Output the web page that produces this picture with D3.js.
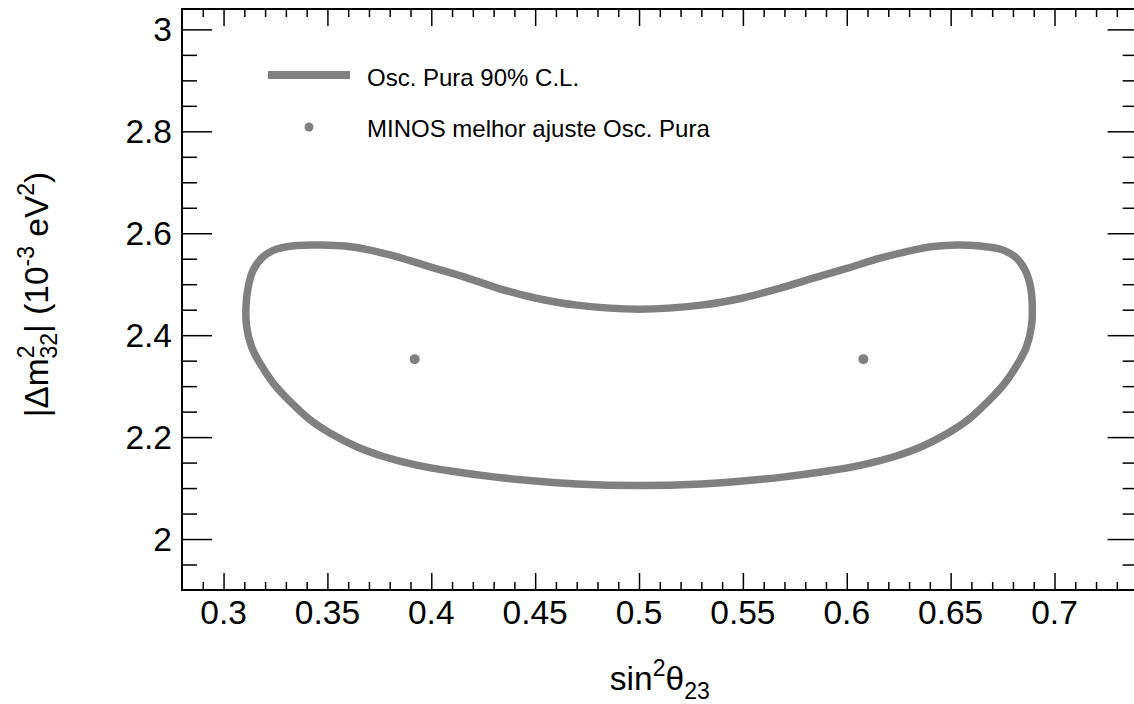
<!DOCTYPE html>
<html>
<head>
<meta charset="utf-8">
<script src="https://cdn.jsdelivr.net/npm/d3@7"></script>
<style>
  html, body { margin: 0; padding: 0; background: #fff; }
  svg { display: block; font-family: "Liberation Sans", Arial, Helvetica, sans-serif; }
</style>
</head>
<body>
<div id="chart"></div>
<script>
// 90% C.L. contour (sin^2 theta23, |dm^2_32| in 1e-3 eV^2)
const contourPoints = [
  [0.3108, 2.456], [0.3119, 2.495], [0.3143, 2.528], [0.3191, 2.554],
  [0.3256, 2.569], [0.3352, 2.576], [0.3472, 2.577], [0.3585, 2.575],
  [0.3705, 2.567], [0.3833, 2.554], [0.3994, 2.534], [0.4154, 2.515],
  [0.4322, 2.492], [0.45, 2.473], [0.47, 2.459], [0.5, 2.451],
  [0.53, 2.459], [0.55, 2.473], [0.5678, 2.492], [0.5839, 2.512],
  [0.6, 2.531], [0.616, 2.551], [0.632, 2.567], [0.6416, 2.574],
  [0.653, 2.577], [0.6641, 2.575], [0.6744, 2.568], [0.6812, 2.553],
  [0.6858, 2.528], [0.6884, 2.496], [0.6893, 2.458], [0.6889, 2.417],
  [0.6865, 2.377], [0.6825, 2.345], [0.6761, 2.306], [0.668, 2.27],
  [0.6584, 2.234], [0.6488, 2.208], [0.6359, 2.181], [0.6231, 2.162],
  [0.607, 2.145], [0.59, 2.133], [0.57, 2.122], [0.55, 2.114],
  [0.53, 2.108], [0.5, 2.105], [0.47, 2.108], [0.45, 2.114],
  [0.43, 2.122], [0.41, 2.133], [0.393, 2.145], [0.3769, 2.162],
  [0.3641, 2.181], [0.3512, 2.208], [0.3416, 2.234], [0.332, 2.27],
  [0.3239, 2.306], [0.3175, 2.345], [0.3135, 2.377], [0.3111, 2.417],
];

// MINOS best fit points (two octants)
const bestFitX = [0.392, 0.608];
const bestFitY = [2.353, 2.353];

const xDomain = [0.28, 0.74];
const yDomain = [1.9, 3.04];
const xMajorTicks = [0.3, 0.35, 0.4, 0.45, 0.5, 0.55, 0.6, 0.65, 0.7];
const xMinorTicks = [0.29, 0.31, 0.32, 0.33, 0.34, 0.36, 0.37, 0.38, 0.39, 0.41, 0.42, 0.43, 0.44,
  0.46, 0.47, 0.48, 0.49, 0.51, 0.52, 0.53, 0.54, 0.56, 0.57, 0.58, 0.59, 0.61, 0.62, 0.63, 0.64,
  0.66, 0.67, 0.68, 0.69, 0.71, 0.72, 0.73];
const yMajorTicks = [2, 2.2, 2.4, 2.6, 2.8, 3];
const yMinorTicks = [1.95, 2.05, 2.1, 2.15, 2.25, 2.3, 2.35, 2.45, 2.5, 2.55, 2.65, 2.7, 2.75,
  2.85, 2.9, 2.95];

const legendLabels = ["Osc. Pura 90% C.L.", "MINOS melhor ajuste Osc. Pura"];

const width = 1134;
const height = 704;
const marginLeft = 182;
const marginTop = 9;
const plotRight = 1137.6;
const plotBottom = 590;
const grey = "#808080";
const labelSize = 33.5;

const svg = d3
  .select("#chart")
  .append("svg")
  .attr("width", width)
  .attr("height", height)
  .attr("viewBox", [0, 0, width, height]);

const x = d3.scaleLinear(xDomain, [marginLeft, plotRight]);
const y = d3.scaleLinear(yDomain, [plotBottom, marginTop]);

// contour
const line = d3
  .line()
  .x((d) => x(d[0]))
  .y((d) => y(d[1]))
  .curve(d3.curveCatmullRomClosed);

svg
  .append("path")
  .datum(contourPoints)
  .attr("d", line)
  .attr("fill", "none")
  .attr("stroke", grey)
  .attr("stroke-width", 7.5);

// best fit markers
svg
  .append("g")
  .selectAll("circle")
  .data(d3.range(bestFitX.length))
  .join("circle")
  .attr("cx", (i) => x(bestFitX[i]))
  .attr("cy", (i) => y(bestFitY[i]))
  .attr("r", 5)
  .attr("fill", grey);

// axes: ticks drawn inward on all four sides, ROOT style
const fmt = (d) => d3.format("~g")(d);

const axes = [
  [d3.axisTop(x).tickValues(xMajorTicks).tickSize(17), `translate(0,${plotBottom})`],
  [d3.axisTop(x).tickValues(xMinorTicks).tickSize(8), `translate(0,${plotBottom})`],
  [d3.axisBottom(x).tickValues(xMajorTicks).tickSize(17), `translate(0,${marginTop})`],
  [d3.axisBottom(x).tickValues(xMinorTicks).tickSize(8), `translate(0,${marginTop})`],
  [d3.axisRight(y).tickValues(yMajorTicks).tickSize(30), `translate(${marginLeft},0)`],
  [d3.axisRight(y).tickValues(yMinorTicks).tickSize(15), `translate(${marginLeft},0)`],
  [d3.axisLeft(y).tickValues(yMajorTicks).tickSize(30), `translate(${plotRight},0)`],
  [d3.axisLeft(y).tickValues(yMinorTicks).tickSize(15), `translate(${plotRight},0)`],
];

axes.forEach(([axis, transform]) => {
  svg
    .append("g")
    .attr("transform", transform)
    .call(axis.tickFormat(""))
    .call((g) => g.select(".domain").remove())
    .call((g) => g.selectAll(".tick line").attr("stroke", "#000").attr("stroke-width", 1.5));
});

// frame
svg
  .append("rect")
  .attr("x", marginLeft)
  .attr("y", marginTop)
  .attr("width", plotRight - marginLeft)
  .attr("height", plotBottom - marginTop)
  .attr("fill", "none")
  .attr("stroke", "#000")
  .attr("stroke-width", 2);

// tick labels
svg
  .append("g")
  .selectAll("text")
  .data(xMajorTicks)
  .join("text")
  .attr("x", (d) => x(d))
  .attr("y", 624)
  .attr("text-anchor", "middle")
  .attr("font-size", labelSize)
  .text(fmt);

svg
  .append("g")
  .selectAll("text")
  .data(yMajorTicks)
  .join("text")
  .attr("x", 172)
  .attr("y", (d) => y(d) + 12)
  .attr("text-anchor", "end")
  .attr("font-size", labelSize)
  .text(fmt);

// x title: sin^2 theta_23
const xTitle = svg
  .append("text")
  .attr("x", (marginLeft + plotRight) / 2)
  .attr("y", 690)
  .attr("text-anchor", "middle")
  .attr("font-size", labelSize);
xTitle.append("tspan").text("sin");
xTitle.append("tspan").attr("font-size", 23).attr("dy", -14).text("2");
xTitle.append("tspan").attr("dy", 14).text("θ");
xTitle.append("tspan").attr("font-size", 23).attr("dy", 9).text("23");

// y title: |dm^2_32| (10^-3 eV^2)
const yTitle = svg
  .append("text")
  .attr("transform", `translate(48,${(marginTop + plotBottom) / 2 - 5}) rotate(-90)`)
  .attr("text-anchor", "middle")
  .attr("font-size", labelSize);
yTitle.append("tspan").text("|Δm");
yTitle.append("tspan").attr("font-size", 23).attr("dy", -14).text("2");
yTitle.append("tspan").attr("font-size", 23).attr("dx", -13).attr("dy", 23).text("32");
yTitle.append("tspan").attr("dy", -9).text("| (10");
yTitle.append("tspan").attr("font-size", 23).attr("dy", -14).text("-3");
yTitle.append("tspan").attr("dy", 14).text(" eV");
yTitle.append("tspan").attr("font-size", 23).attr("dy", -14).text("2");
yTitle.append("tspan").attr("dy", 14).text(")");

// legend
const legend = svg.append("g");
legend
  .append("line")
  .attr("x1", 268)
  .attr("x2", 350)
  .attr("y1", 75)
  .attr("y2", 75)
  .attr("stroke", grey)
  .attr("stroke-width", 8);
legend
  .append("circle")
  .attr("cx", 309)
  .attr("cy", 127)
  .attr("r", 4.5)
  .attr("fill", grey);
legend
  .selectAll("text")
  .data(legendLabels)
  .join("text")
  .attr("x", 367)
  .attr("y", (d, i) => 85.5 + i * 51.7)
  .attr("font-size", 24)
  .text((d) => d);
</script>
</body>
</html>
